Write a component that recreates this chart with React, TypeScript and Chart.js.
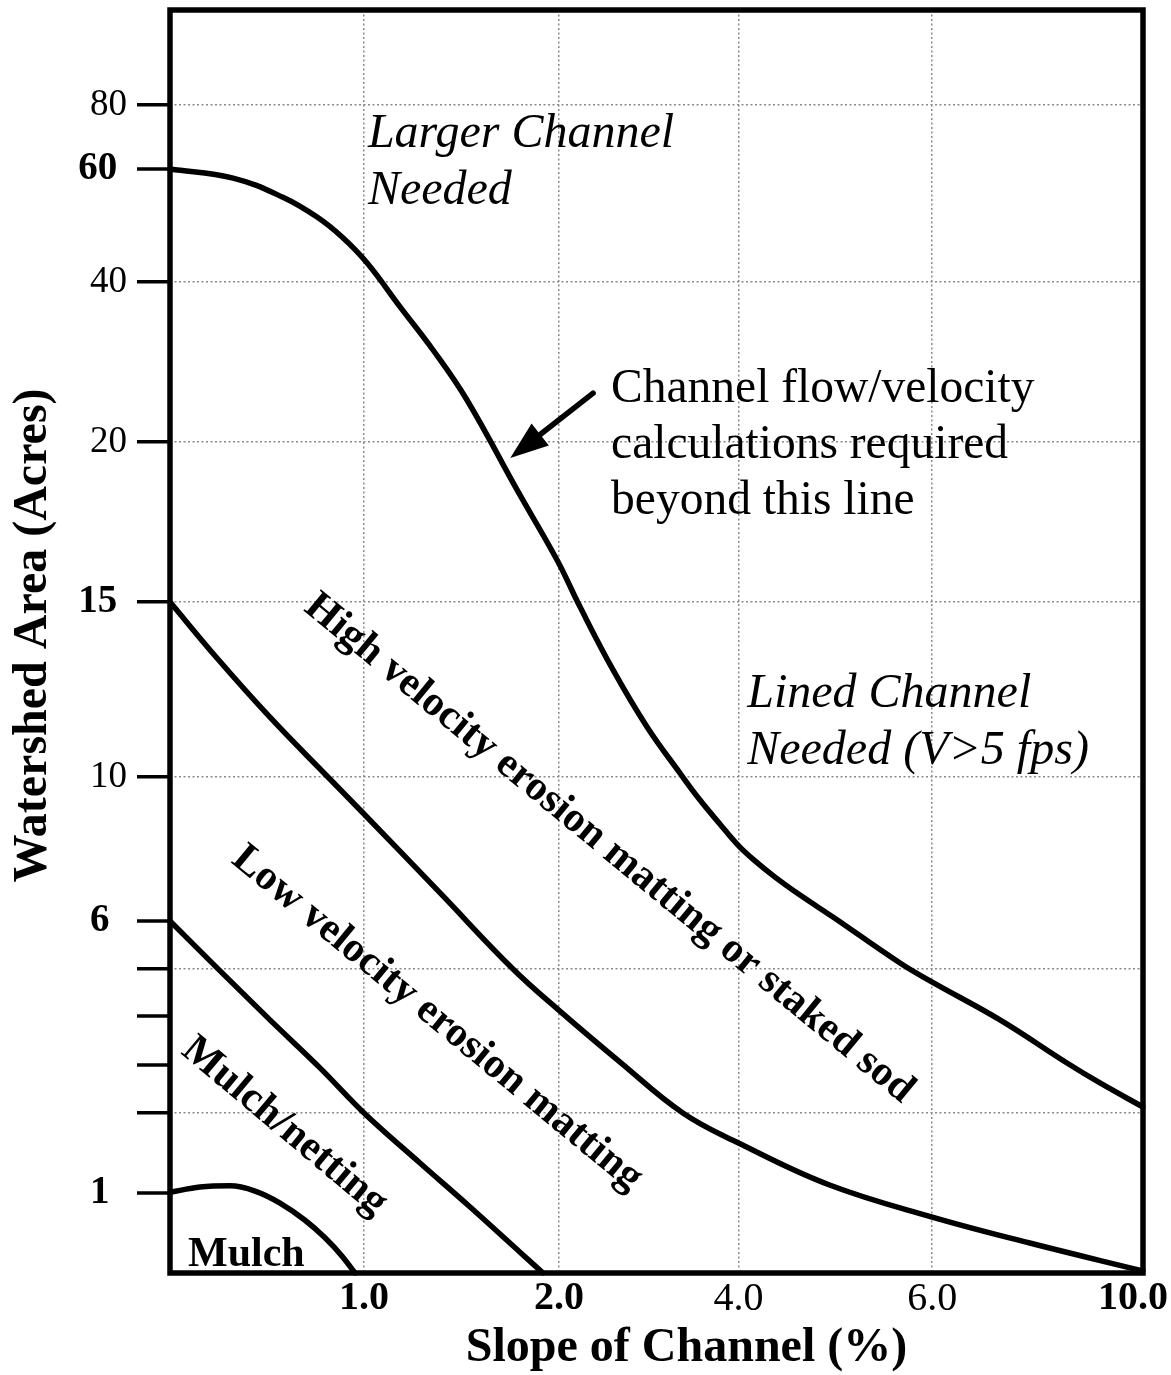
import React, { useEffect, useRef } from 'react';
import { Chart, registerables, LinearScale } from 'chart.js';

Chart.register(...registerables);

const SERIF = "'Liberation Serif', 'Times New Roman', serif";

// ---------- axes ----------
const SLOPE_TICKS = [1, 2, 4, 6, 10];
const SLOPE_TICK_LABELS = ['1.0', '2.0', '4.0', '6.0', '10.0\u2002'];
const SLOPE_BOLD = [1, 2, 10];
const SLOPE_GRID = [1, 2, 4, 6];
const SLOPE_BREAKS = [0, 1, 2, 4, 6, 10];
const SLOPE_BREAK_FRACTIONS = [0, 0.1994, 0.3998, 0.5843, 0.7834, 1];

const AREA_TICKS = [1, 2, 3, 4, 5, 6, 10, 15, 20, 40, 60, 80];
const AREA_TICK_LABELS = ['1\u00a0\u2009', '', '', '', '', '6\u00a0\u2009', '10', '15\u00a0', '20', '40', '60\u00a0', '80'];
const AREA_BOLD = [1, 6, 15, 60];
const AREA_GRID = [2, 5, 10, 15, 20, 40, 80];
const AREA_BREAKS = [0, 1, 2, 3, 4, 5, 6, 10, 15, 20, 40, 60, 80, 100];
const AREA_BREAK_FRACTIONS = [0, 0.0633, 0.1267, 0.1647, 0.2035, 0.2407, 0.2787, 0.3927, 0.5313, 0.658, 0.7846, 0.8741, 0.9248, 1];

// ---------- curves (slope %, watershed acres) ----------
const SLOPE_A = [0, 0.325, 0.582, 0.758, 0.887, 1.015, 1.185, 1.354, 1.528, 1.785, 1.99, 2.234, 2.602, 2.981, 3.348, 3.571, 3.794, 3.994, 4.17, 4.377, 4.635, 4.975, 5.667, 6.0, 7.285, 8.557, 9.183, 10];
const AREA_A = [60, 58.4, 55.0, 51.5, 47.96, 43.4, 36.9, 31.5, 25.25, 18.5, 16.31, 14.86, 13.06, 11.43, 10.11, 9.36, 8.69, 8.11, 7.67, 7.22, 6.72, 6.11, 5.125, 4.72, 3.92, 3.04, 2.625, 2.125];

const SLOPE_B = [0, 0.242, 0.515, 0.814, 0.995, 1.39, 1.764, 2.0, 2.68, 3.38, 4.0, 4.94, 6.0, 7.85, 10];
const AREA_B = [15, 13.4, 11.71, 10, 9.0, 6.78, 5.0, 4.12, 3.06, 2.0, 1.625, 1.1, 0.7, 0.375, 0.025];

const SLOPE_C = [0, 0.258, 0.515, 0.773, 1.0, 1.287, 1.544, 1.8, 1.918];
const AREA_C = [6, 4.96, 3.92, 2.94, 2.0, 1.375, 0.825, 0.26, 0];

const SLOPE_D = [0, 0.155, 0.309, 0.438, 0.567, 0.696, 0.799, 0.887, 0.954];
const AREA_D = [1.01, 1.075, 1.09, 1.025, 0.875, 0.66, 0.44, 0.21, 0];

// ---------- annotations ----------
const NOTE_LINES = [
  ['Larger Channel', 'Needed'],
  ['Channel flow/velocity', 'calculations required', 'beyond this line'],
  ['Lined Channel', 'Needed (V>5 fps)'],
];
const NOTE_SLOPE = [1.02, 2.58, 4.09];
const NOTE_AREA = [66.9, 25, 12.0];
const NOTE_STYLE = ['italic', 'normal', 'italic'];
const NOTE_SIZE = [48, 47.5, 48];
const LINE_GAP = 1.18;

const ZONE_TEXTS = ['High velocity erosion matting or staked sod', 'Low velocity erosion matting', 'Mulch/netting', 'Mulch'];
const ZONE_SLOPE = [0.684, 0.31, 0.052, 0.093];
const ZONE_AREA = [14.77, 7.64, 3.245, 0.0875];
const ZONE_ANGLE = [39.5, 39.5, 40, 0];
const ZONE_SIZE = 42;

const ARROW_FROM = [2.38, 26.1];
const ARROW_TO = [1.75, 19.5];

// ---------- piecewise axis ----------
function interp(v: number, xs: number[], ys: number[]) {
  const n = xs.length;
  if (v <= xs[0]) return ys[0] + ((v - xs[0]) * (ys[1] - ys[0])) / (xs[1] - xs[0]);
  for (let i = 1; i < n; i++) {
    if (v <= xs[i]) {
      const t = (v - xs[i - 1]) / (xs[i] - xs[i - 1]);
      return ys[i - 1] + t * (ys[i] - ys[i - 1]);
    }
  }
  return ys[n - 1] + ((v - xs[n - 1]) * (ys[n - 1] - ys[n - 2])) / (xs[n - 1] - xs[n - 2]);
}

function makeBrokenScale(id: string, breaks: number[], fractions: number[], ticks: number[]) {
  class BrokenScale extends (LinearScale as any) {
    static id = id;
    static defaults = {};
    determineDataLimits() {
      this.min = breaks[0];
      this.max = breaks[breaks.length - 1];
    }
    buildTicks() {
      this.start = this.min;
      this.end = this.max;
      return ticks.map((v) => ({ value: v }));
    }
    getPixelForValue(value: number) {
      return this.getPixelForDecimal(interp(value, breaks, fractions));
    }
    getValueForPixel(pixel: number) {
      return interp(this.getDecimalForPixel(pixel), fractions, breaks);
    }
  }
  return BrokenScale;
}

const SlopeScale = makeBrokenScale('brokenSlope', SLOPE_BREAKS, SLOPE_BREAK_FRACTIONS, SLOPE_TICKS);
const AreaScale = makeBrokenScale('brokenArea', AREA_BREAKS, AREA_BREAK_FRACTIONS, AREA_TICKS);
Chart.register(SlopeScale as any, AreaScale as any);

const overlay = {
  id: 'overlay',
  afterDatasetsDraw(chart: any) {
    const { ctx, chartArea: a } = chart;
    const xs = chart.scales.x;
    const ys = chart.scales.y;
    ctx.save();
    ctx.fillStyle = '#000';
    ctx.strokeStyle = '#000';
    ctx.textBaseline = 'alphabetic';
    ctx.textAlign = 'left';

    NOTE_LINES.forEach((lines, i) => {
      ctx.font = `${NOTE_STYLE[i]} normal ${NOTE_SIZE[i]}px ${SERIF}`;
      const x0 = xs.getPixelForValue(NOTE_SLOPE[i]);
      const y0 = ys.getPixelForValue(NOTE_AREA[i]);
      lines.forEach((t, k) => ctx.fillText(t, x0, y0 + k * NOTE_SIZE[i] * LINE_GAP));
    });

    ZONE_TEXTS.forEach((t, i) => {
      ctx.save();
      ctx.translate(xs.getPixelForValue(ZONE_SLOPE[i]), ys.getPixelForValue(ZONE_AREA[i]));
      ctx.rotate((ZONE_ANGLE[i] * Math.PI) / 180);
      ctx.font = `normal bold ${ZONE_SIZE}px ${SERIF}`;
      ctx.fillText(t, 0, 0);
      ctx.restore();
    });

    // arrow
    const x1 = xs.getPixelForValue(ARROW_FROM[0]);
    const y1 = ys.getPixelForValue(ARROW_FROM[1]);
    const x2 = xs.getPixelForValue(ARROW_TO[0]);
    const y2 = ys.getPixelForValue(ARROW_TO[1]);
    const len = Math.hypot(x2 - x1, y2 - y1);
    const ux = (x2 - x1) / len;
    const uy = (y2 - y1) / len;
    const headLen = 38;
    const headHalf = 14;
    const bx = x2 - ux * headLen;
    const by = y2 - uy * headLen;
    ctx.lineWidth = 5.5;
    ctx.lineCap = 'round';
    ctx.beginPath();
    ctx.moveTo(x1, y1);
    ctx.lineTo(bx + ux * 4, by + uy * 4);
    ctx.stroke();
    ctx.beginPath();
    ctx.moveTo(x2, y2);
    ctx.lineTo(bx - uy * headHalf, by + ux * headHalf);
    ctx.lineTo(bx + uy * headHalf, by - ux * headHalf);
    ctx.closePath();
    ctx.fill();

    // frame
    ctx.lineCap = 'butt';
    ctx.lineWidth = 5.5;
    ctx.strokeRect(a.left, a.top, a.right - a.left, a.bottom - a.top);
    ctx.restore();
  },
};

const CURVES = [
  [SLOPE_A, AREA_A, 'default'],
  [SLOPE_B, AREA_B, 'default'],
  [SLOPE_C, AREA_C, 'monotone'],
  [SLOPE_D, AREA_D, 'monotone'],
];

export default function App() {
  const ref = useRef<HTMLCanvasElement>(null);
  useEffect(() => {
    if (!ref.current) return;
    const chart = new Chart(ref.current, {
      type: 'scatter',
      data: {
        datasets: CURVES.map(([sx, ay, mode]: any) => ({
          data: sx.map((v: number, i: number) => ({ x: v, y: ay[i] })),
          showLine: true,
          borderColor: '#000',
          borderWidth: 5.5,
          borderCapStyle: 'round',
          borderJoinStyle: 'round',
          pointRadius: 0,
          cubicInterpolationMode: mode,
          tension: 0.4,
          fill: false,
        })),
      },
      options: {
        animation: false,
        responsive: true,
        maintainAspectRatio: false,
        layout: { padding: { left: 0, top: 10, right: 28, bottom: 0 } },
        plugins: { legend: { display: false }, tooltip: { enabled: false } },
        scales: {
          x: {
            type: 'brokenSlope',
            position: 'bottom',
            grid: {
              drawTicks: false,
              color: '#8a8a8a',
              lineWidth: (c: any) => (SLOPE_GRID.includes(c.tick?.value) ? 1.5 : 0),
            },
            border: { display: false, dash: [2, 2.5] },
            ticks: {
              autoSkip: false,
              maxRotation: 0,
              padding: 2,
              color: '#000',
              font: (c: any) => ({ family: SERIF, size: 40, weight: SLOPE_BOLD.includes(c.tick?.value) ? 'bold' : 'normal' }),
              callback: (v: any) => SLOPE_TICK_LABELS[SLOPE_TICKS.indexOf(Number(v))] ?? '',
            },
            title: {
              display: true,
              text: '\u00a0\u00a0\u00a0\u00a0\u00a0Slope of Channel (%)',
              color: '#000',
              font: { family: SERIF, size: 48, weight: 'bold' },
              padding: { top: 0, bottom: -2 },
            },
            afterFit: (s: any) => {
              s.height = 102;
              s.paddingLeft = 0;
              s.paddingRight = 0;
            },
          },
          y: {
            type: 'brokenArea',
            position: 'left',
            grid: {
              drawTicks: true,
              tickLength: 33,
              tickWidth: 3.5,
              tickColor: '#000',
              color: '#8a8a8a',
              lineWidth: (c: any) => (AREA_GRID.includes(c.tick?.value) ? 1.5 : 0),
            },
            border: { display: false, dash: [2, 2.5] },
            ticks: {
              autoSkip: false,
              padding: 10,
              color: '#000',
              font: (c: any) =>
                AREA_BOLD.includes(c.tick?.value)
                  ? { family: SERIF, size: 39, weight: 'bold' }
                  : { family: SERIF, size: 37, weight: 'normal' },
              callback: (v: any) => AREA_TICK_LABELS[AREA_TICKS.indexOf(Number(v))] ?? '',
            },
            title: {
              display: true,
              text: '\u00a0Watershed Area (Acres)',
              color: '#000',
              font: { family: SERIF, size: 48, weight: 'bold' },
              padding: { top: 5, bottom: 0 },
            },
            afterFit: (s: any) => {
              s.width = 170;
              s.paddingTop = 0;
              s.paddingBottom = 0;
            },
          },
        },
      },
      plugins: [overlay],
    } as any);
    return () => chart.destroy();
  }, []);
  return (
    <div style={{ position: 'absolute', left: 0, top: 0, width: 1171, height: 1375, background: '#fff' }}>
      <canvas ref={ref} />
    </div>
  );
}
